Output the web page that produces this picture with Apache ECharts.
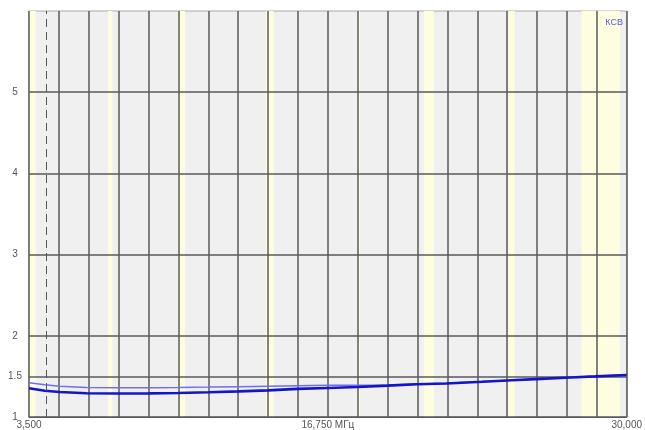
<!DOCTYPE html>
<html>
<head>
<meta charset="utf-8">
<style>
  html, body { margin: 0; padding: 0; background: #ffffff; }
  #chart { width: 645px; height: 430px; }
</style>
<script src="https://cdn.jsdelivr.net/npm/echarts@6/dist/echarts.min.js"></script>
</head>
<body>
<div id="chart"></div>
<script>
// Frequency sweep, MHz
var freqs = [3.5, 4.2, 4.86, 6.05, 7.4, 8.83, 10.1, 11.47, 12.8, 14.1, 15.4, 16.75,
             18.07, 19.4, 20.7, 22.0, 23.6, 24.9, 26.2, 27.5, 28.6, 30.0];
// SWR, main trace (thick)
var swrMain = [1.354, 1.324, 1.308, 1.292, 1.29, 1.291, 1.296, 1.305, 1.316, 1.328, 1.346, 1.358,
               1.370, 1.386, 1.403, 1.413, 1.434, 1.452, 1.470, 1.487, 1.500, 1.517];
// SWR, reference trace (thin)
var swrRef = [1.422, 1.398, 1.380, 1.364, 1.361, 1.361, 1.364, 1.368, 1.374, 1.380, 1.386, 1.390,
              1.392, 1.394, 1.406, 1.415, 1.436, 1.454, 1.472, 1.489, 1.502, 1.519];
// Amateur bands shaded on the plot, MHz (narrow bands shown with a visible width)
var bandStart = [3.5, 7.0, 10.1, 14.0, 18.068, 21.0, 24.76, 28.0];
var bandEnd   = [3.8, 7.2, 10.42, 14.35, 18.168, 21.45, 25.03, 29.7];
// Axis ranges and labels
var fMin = 3.5, fMax = 30.0, fDivisions = 20;
var xLabelValues = [3.5, 16.75, 30.0];
var yLabelValues = [1, 1.5, 2, 3, 4, 5];
var markerFreq = 4.28;
var traceName = 'КСВ';

var xGrid = [];
for (var i = 0; i <= fDivisions; i++) {
  xGrid.push(+(fMin + (fMax - fMin) * i / fDivisions).toFixed(4));
}
function pairs(xs, ys) { return xs.map(function (x, i) { return [x, ys[i]]; }); }
function fmtFreq(v) {
  var s = v.toFixed(3).replace('.', ',');
  return Math.abs(v - 16.75) < 1e-6 ? s + ' МГц' : s;
}

var chart = echarts.init(document.getElementById('chart'), null, { renderer: 'canvas' });
chart.setOption({
  animation: false,
  backgroundColor: '#ffffff',
  title: {
    text: traceName,
    right: 17, top: 13,
    textStyle: { fontFamily: 'Liberation Sans', fontSize: 9, fontWeight: 'normal', color: '#5656d8' }
  },
  grid: {
    left: 29, right: 14, top: 11, bottom: 13,
    show: true, backgroundColor: '#f0f0f0', borderColor: '#a8a8a8', borderWidth: 1
  },
  xAxis: {
    type: 'value', min: fMin, max: fMax, z: 1.5,
    axisLine: { show: true, lineStyle: { color: '#5a5a5a', width: 1 } },
    axisTick: { show: false, customValues: xGrid },
    axisLabel: {
      customValues: xLabelValues, margin: 3, color: '#555555',
      fontFamily: 'Liberation Sans', fontSize: 10, formatter: fmtFreq
    },
    splitLine: { show: true, lineStyle: { color: '#5a5a5a', width: 1.5 } }
  },
  yAxis: {
    type: 'value', min: 1, max: 6, z: 1.5,
    axisLine: { show: false },
    axisTick: { show: false, customValues: yLabelValues },
    axisLabel: {
      customValues: yLabelValues, margin: 14, align: 'center', color: '#555555',
      fontFamily: 'Liberation Sans', fontSize: 10
    },
    splitLine: { show: true, lineStyle: { color: '#5a5a5a', width: 1.5 } }
  },
  series: [
    {
      type: 'line', name: 'ref', data: pairs(freqs, swrRef), showSymbol: false, z: 3,
      lineStyle: { color: '#6e6ef0', width: 1.5 },
      markArea: {
        silent: true,
        itemStyle: { color: '#fffde0' },
        data: bandStart.map(function (s, i) { return [{ xAxis: s }, { xAxis: bandEnd[i] }]; })
      }
    },
    {
      type: 'line', name: 'main', data: pairs(freqs, swrMain), showSymbol: false, z: 4,
      lineStyle: { color: '#1414c8', width: 2.6 },
      markLine: {
        silent: true, symbol: 'none', label: { show: false },
        lineStyle: { color: '#555555', width: 1, type: [8, 5] },
        data: [{ xAxis: markerFreq }]
      }
    }
  ]
});
</script>
</body>
</html>
